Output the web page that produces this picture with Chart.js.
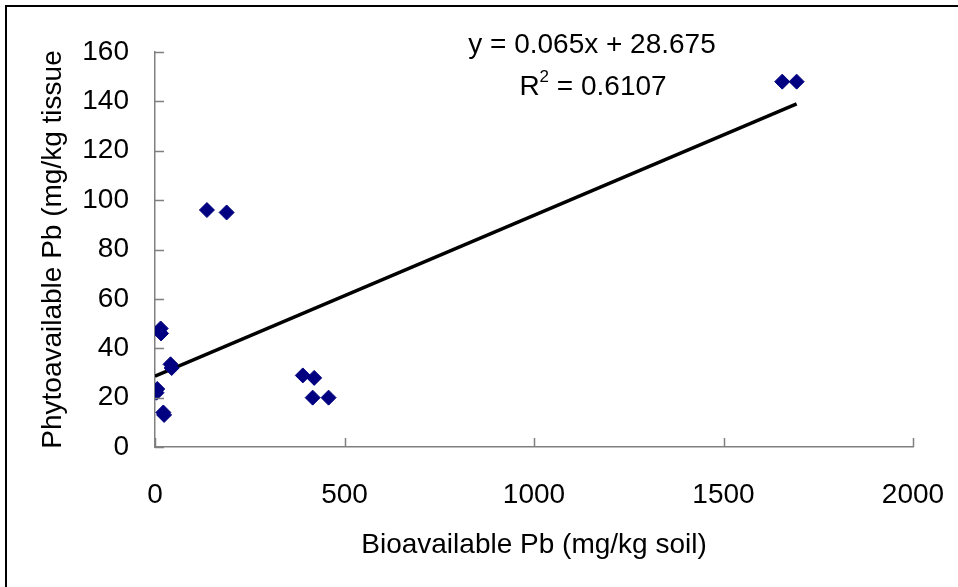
<!DOCTYPE html>
<html>
<head>
<meta charset="utf-8">
<script src="https://cdn.jsdelivr.net/npm/chart.js@4/dist/chart.umd.min.js"></script>
<style>
  body { margin: 0; background: #ffffff; }
  #frame { position: absolute; left: 5px; top: 5px; width: 980px; height: 600px; border: 2px solid #000000; }
  #chart-wrap { position: absolute; left: 0; top: 0; width: 958px; height: 587px; }
</style>
</head>
<body>
<div id="frame"></div>
<div id="chart-wrap"><canvas id="pb-chart" width="958" height="587"></canvas></div>
<script>
// values
var soilPb = [15, 16, 41, 44, 6, 4, 22, 24, 390, 420, 416, 458, 137, 189, 1655, 1693];
var tissuePb = [48, 46, 33.5, 32, 23.5, 22, 14, 13, 29, 28, 20, 20, 96, 95, 148, 148];
var trendX = [0, 1693];
var trendY = [28.7, 139];
var xTicks = [0, 500, 1000, 1500, 2000];
var yTicks = [0, 20, 40, 60, 80, 100, 120, 140, 160];
var equationText = "y = 0.065x + 28.675";
var rSquaredText = " = 0.6107";

var FONT = "'Liberation Sans', Arial, sans-serif";
var AXIS_GREY = "#808080";

var points = [];
for (var i = 0; i < soilPb.length; i++) {
  points.push({x: soilPb[i], y: tissuePb[i]});
}
var trend = [];
for (var j = 0; j < trendX.length; j++) {
  trend.push({x: trendX[j], y: trendY[j]});
}

// short ticks pointing into the plot, plus the fit equation
var extras = {
  id: 'extras',
  afterDraw: function(chart) {
    var ctx = chart.ctx;
    var xs = chart.scales.x;
    var ys = chart.scales.y;
    ctx.save();
    ctx.strokeStyle = AXIS_GREY;
    ctx.lineWidth = 1.5;
    ctx.beginPath();
    xTicks.forEach(function(v) {
      var px = Math.round(xs.getPixelForValue(v)) + 0.5;
      ctx.moveTo(px, ys.bottom);
      ctx.lineTo(px, ys.bottom - 9);
    });
    yTicks.forEach(function(v) {
      var py = Math.round(ys.getPixelForValue(v)) + 0.5;
      ctx.moveTo(xs.left, py);
      ctx.lineTo(xs.left + 9, py);
    });
    ctx.stroke();

    ctx.fillStyle = "#000000";
    ctx.textBaseline = "middle";
    ctx.textAlign = "center";
    ctx.font = "28px " + FONT;
    ctx.fillText(equationText, 592, 45);

    // R squared with a raised 2
    ctx.textAlign = "left";
    var rw = ctx.measureText("R").width;
    var restW = ctx.measureText(rSquaredText).width;
    ctx.font = "17px " + FONT;
    var sw = ctx.measureText("2").width;
    var startX = 593 - (rw + sw + restW) / 2;
    ctx.font = "28px " + FONT;
    ctx.fillText("R", startX, 87);
    ctx.font = "17px " + FONT;
    ctx.fillText("2", startX + rw, 77);
    ctx.font = "28px " + FONT;
    ctx.fillText(rSquaredText, startX + rw + sw, 87);
    ctx.restore();
  }
};

var chart = new Chart(document.getElementById("pb-chart"), {
  type: 'scatter',
  data: {
    datasets: [{
      data: points,
      backgroundColor: '#000080',
      borderColor: '#000080',
      pointStyle: 'rectRot',
      pointRadius: 7.5,
      order: 1
    }, {
      type: 'line',
      data: trend,
      borderColor: '#000000',
      borderWidth: 3.5,
      pointRadius: 0,
      fill: false,
      order: 2
    }]
  },
  options: {
    responsive: false,
    animation: false,
    layout: {
      padding: {left: 31, top: 52, right: 45, bottom: 20}
    },
    plugins: {
      legend: { display: false },
      tooltip: { enabled: false }
    },
    scales: {
      x: {
        type: 'linear',
        min: 0,
        max: 2000,
        afterBuildTicks: function(scale) {
          scale.ticks = xTicks.map(function(v) { return {value: v}; });
        },
        afterFit: function(scale) {
          scale.height = 120;
          scale.paddingLeft = 0;
          scale.paddingRight = 0;
        },
        grid: { display: true, drawOnChartArea: false, drawTicks: false },
        border: { display: true, color: AXIS_GREY, width: 1.5 },
        ticks: {
          color: '#000000',
          font: { family: FONT, size: 28 },
          padding: 31,
          maxRotation: 0,
          callback: function(v) { return String(v); }
        },
        title: {
          display: true,
          text: 'Bioavailable Pb (mg/kg soil)',
          color: '#000000',
          font: { family: FONT, size: 28 },
          padding: { top: 0, bottom: 5 }
        }
      },
      y: {
        type: 'linear',
        min: 0,
        max: 160,
        afterBuildTicks: function(scale) {
          scale.ticks = yTicks.map(function(v) { return {value: v}; });
        },
        afterFit: function(scale) {
          scale.width = 124;
          scale.paddingTop = 0;
          scale.paddingBottom = 0;
        },
        grid: { display: true, drawOnChartArea: false, drawTicks: false },
        border: { display: true, color: AXIS_GREY, width: 1.5 },
        ticks: {
          color: '#000000',
          font: { family: FONT, size: 28 },
          padding: 26,
          callback: function(v) { return String(v); }
        },
        title: {
          display: true,
          text: 'Phytoavailable Pb (mg/kg tissue',
          color: '#000000',
          font: { family: FONT, size: 28 },
          padding: { top: 5, bottom: 0 }
        }
      }
    }
  },
  plugins: [extras]
});
</script>
</body>
</html>
